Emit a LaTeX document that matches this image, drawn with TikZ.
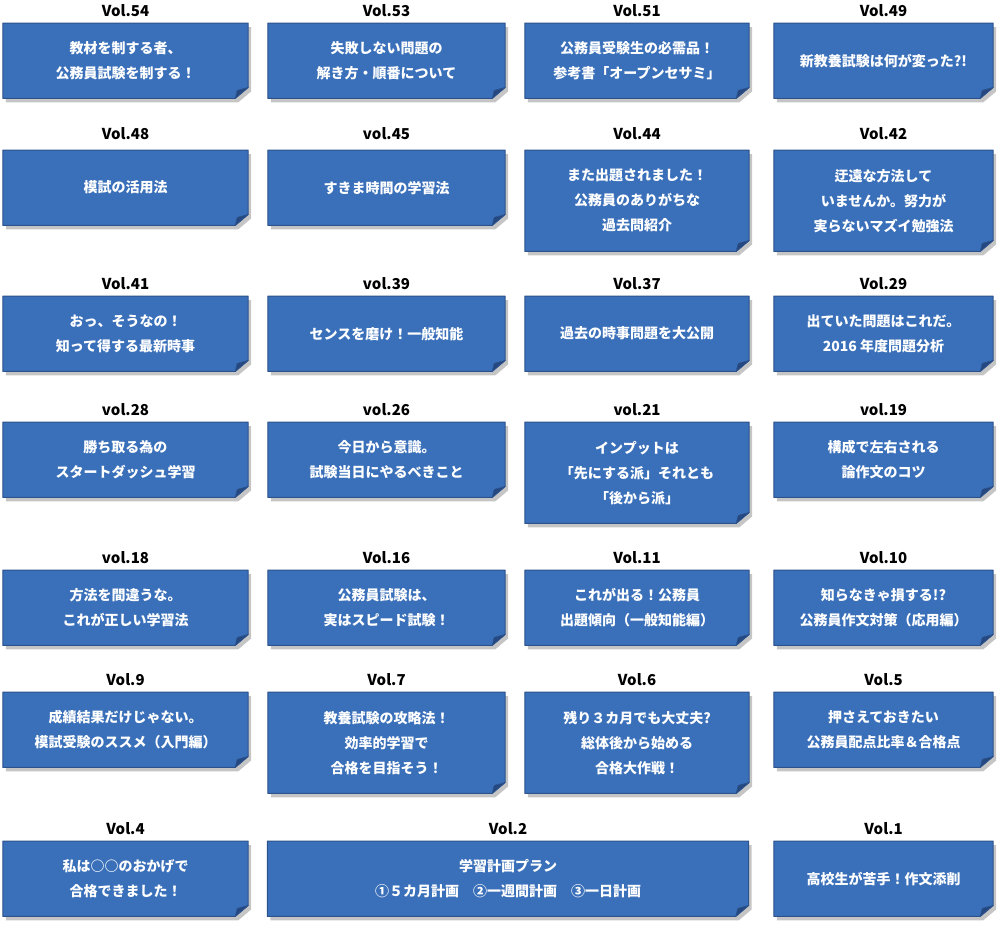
\documentclass[tikz,border=0pt]{standalone}
\usepackage{fontspec}
\newfontfamily\cjk{Noto Sans CJK JP}
\definecolor{noteblue}{RGB}{58, 112, 186}
\definecolor{noteline}{RGB}{44, 82, 140}
\definecolor{notefold}{RGB}{38, 72, 128}
\usetikzlibrary{
    positioning,
    shadows,
    backgrounds
}

\begin{document}
\begin{tikzpicture}[x=1pt, y=-1pt,
            note/.style={anchor=north, text=white, align=center, inner sep=0pt,
                font=\cjk\bfseries\fontsize{14}{25}\selectfont, minimum height=75pt},
            tall/.style={minimum height=101pt},
            c1/.style={minimum width=245pt},
            c2/.style={minimum width=237pt},
            c3/.style={minimum width=224pt},
            c4/.style={minimum width=219pt},
            vol/.style={inner sep=0pt, font=\cjk\bfseries\fontsize{15}{15}\selectfont}]

            \useasboundingbox (0,0) rectangle (1004,926);

            % Row 1
            \node[note, c1] (v54) at (125.5,23) {教材を制する者、\\公務員試験を制する！};
            \node[note, c2] (v53) at (386.5,23) {失敗しない問題の\\解き方・順番について};
            \node[note, c3] (v51) at (637,23) {公務員受験生の必需品！\\参考書「オープンセサミ」};
            \node[note, c4] (v49) at (883.5,23) {新教養試験は何が変った?!};

            % Row 2
            \node[note, c1] (v48) at (125.5,150) {模試の活用法};
            \node[note, c2] (v45) at (386.5,150) {すきま時間の学習法};
            \node[note, c3, tall] (v44) at (637,150) {また出題されました！\\公務員のありがちな\\過去問紹介};
            \node[note, c4, tall] (v42) at (883.5,150) {迂遠な方法して\\いませんか。努力が\\実らないマズイ勉強法};

            % Row 3
            \node[note, c1] (v41) at (125.5,296) {おっ、そうなの！\\知って得する最新時事};
            \node[note, c2] (v39) at (386.5,296) {センスを磨け！一般知能};
            \node[note, c3] (v37) at (637,296) {過去の時事問題を大公開};
            \node[note, c4] (v29) at (883.5,296) {出ていた問題はこれだ。\\2016 年度問題分析};

            % Row 4
            \node[note, c1] (v28) at (125.5,422) {勝ち取る為の\\スタートダッシュ学習};
            \node[note, c2] (v26) at (386.5,422) {今日から意識。\\試験当日にやるべきこと};
            \node[note, c3, tall] (v21) at (637,422) {インプットは\\「先にする派」それとも\\「後から派」};
            \node[note, c4] (v19) at (883.5,422) {構成で左右される\\論作文のコツ};

            % Row 5
            \node[note, c1] (v18) at (125.5,570) {方法を間違うな。\\これが正しい学習法};
            \node[note, c2] (v16) at (386.5,570) {公務員試験は、\\実はスピード試験！};
            \node[note, c3] (v11) at (637,570) {これが出る！公務員\\出題傾向（一般知能編）};
            \node[note, c4] (v10) at (883.5,570) {知らなきゃ損する!?\\公務員作文対策（応用編）};

            % Row 6
            \node[note, c1] (v9) at (125.5,692) {成績結果だけじゃない。\\模試受験のススメ（入門編）};
            \node[note, c2, tall] (v7) at (386.5,692) {教養試験の攻略法！\\効率的学習で\\合格を目指そう！};
            \node[note, c3, tall] (v6) at (637,692) {残り３カ月でも大丈夫?\\総体後から始める\\合格大作戦！};
            \node[note, c4] (v5) at (883.5,692) {押さえておきたい\\公務員配点比率＆合格点};

            % Row 7
            \node[note, c1] (v4) at (125.5,841) {私は○○のおかげで\\合格できました！};
            \node[note, minimum width=481pt] (v2) at (508,841) {学習計画プラン\\①５カ月計画　②一週間計画　③一日計画};
            \node[note, c4] (v1) at (883.5,841) {高校生が苦手！作文添削};

            % Labels
            \node[vol, above=6pt of v54] (t54) {Vol.54};
            \node[vol, above=6pt of v53] (t53) {Vol.53};
            \node[vol, above=6pt of v51] (t51) {Vol.51};
            \node[vol, above=6pt of v49] (t49) {Vol.49};
            \node[vol, above=10pt of v48] (t48) {Vol.48};
            \node[vol, above=10pt of v45] (t45) {vol.45};
            \node[vol, above=10pt of v44] (t44) {Vol.44};
            \node[vol, above=10pt of v42] (t42) {Vol.42};
            \node[vol, above=6pt of v41] (t41) {Vol.41};
            \node[vol, above=6pt of v39] (t39) {vol.39};
            \node[vol, above=6pt of v37] (t37) {Vol.37};
            \node[vol, above=6pt of v29] (t29) {Vol.29};
            \node[vol, above=6pt of v28] (t28) {vol.28};
            \node[vol, above=6pt of v26] (t26) {vol.26};
            \node[vol, above=6pt of v21] (t21) {vol.21};
            \node[vol, above=6pt of v19] (t19) {vol.19};
            \node[vol, above=6pt of v18] (t18) {vol.18};
            \node[vol, above=6pt of v16] (t16) {Vol.16};
            \node[vol, above=6pt of v11] (t11) {Vol.11};
            \node[vol, above=6pt of v10] (t10) {Vol.10};
            \node[vol, above=6pt of v9] (t9) {Vol.9};
            \node[vol, above=6pt of v7] (t7) {Vol.7};
            \node[vol, above=6pt of v6] (t6) {Vol.6};
            \node[vol, above=6pt of v5] (t5) {Vol.5};
            \node[vol, above=6pt of v4] (t4) {Vol.4};
            \node[vol, above=6pt of v2] (t2) {Vol.2};
            \node[vol, above=6pt of v1] (t1) {Vol.1};

            % Sticky notes with folded corner
            \begin{scope}[on background layer]
                \foreach \n in {v54,v53,v51,v49,v48,v45,v44,v42,v41,v39,v37,v29,v28,v26,v21,v19,
                                v18,v16,v11,v10,v9,v7,v6,v5,v4,v2,v1} {
                    \filldraw[fill=noteblue, draw=noteline, line width=1pt, line join=round,
                        drop shadow={shadow xshift=3pt, shadow yshift=-4pt, fill=black!45, opacity=0.5}]
                        (\n.north west) -- (\n.north east) -- ([yshift=11pt]\n.south east)
                        -- ([xshift=-13pt]\n.south east) -- (\n.south west) -- cycle;
                    \filldraw[fill=notefold, draw=noteline, line width=0.6pt, line join=round]
                        ([yshift=11pt]\n.south east) -- ([xshift=-11pt, yshift=8pt]\n.south east)
                        -- ([xshift=-13pt]\n.south east) -- cycle;
                }
            \end{scope}
        \end{tikzpicture}
\end{document}
